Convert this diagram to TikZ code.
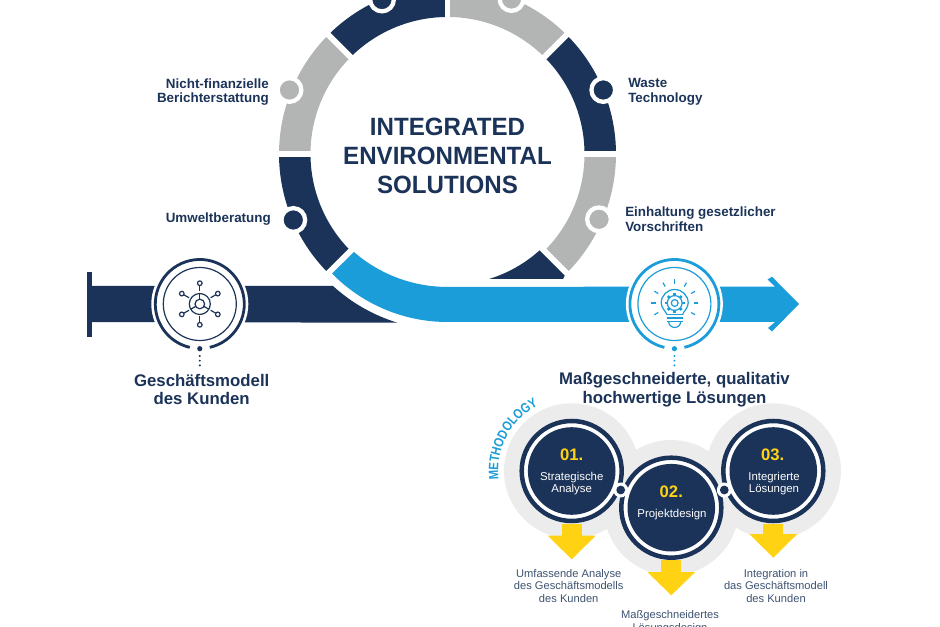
\documentclass[tikz,border=0pt]{standalone}
\usepackage{fontspec}
\setmainfont{Liberation Sans}
\newfontfamily\titlefont[BoldFeatures={FakeStretch=.965}]{Liberation Sans}
\newfontfamily\methodfont[BoldFeatures={FakeStretch=.83}]{Liberation Sans}
\usetikzlibrary{decorations.text}
\definecolor{navy}{RGB}{27,51,88}
\definecolor{sky}{RGB}{27,157,217}
\definecolor{ash}{RGB}{179,181,180}
\definecolor{mist}{RGB}{236,236,236}
\definecolor{sun}{RGB}{255,211,20}
\newcommand{\fs}[1]{\fontsize{#1}{#1}\selectfont}

\begin{document}
\begin{tikzpicture}[x=.75pt,y=.75pt,
  ringseg/.style={line width=23.6pt},
  pin/.style={circle,inner sep=0pt,minimum size=17.8pt,draw=white,line width=3.2pt},
  sidelabel/.style={navy,font=\fs{10.05}\bfseries,align=left,inner sep=0pt},
  caption/.style={navy,font=\fs{12.6}\bfseries,align=center,inner sep=0pt},
  stepname/.style={white,font=\fs{8.55},align=center,inner sep=0pt},
  stepno/.style={sun,font=\fs{12.5}\bfseries,inner sep=0pt},
  stepnote/.style={navy!85!white,font=\fs{8.35},align=center,inner sep=0pt}]
\clip (0,0) rectangle (940,626);
% ring
\foreach \a/\c in {90/navy,45/ash,0/navy,-45/ash,135/ash,180/navy}
  {\draw[ringseg,\c] (447.5,472) ++(\a:152.75) arc[start angle=\a,delta angle=45,radius=152.75];}
\fill[navy] (489,347) arc[start angle=287,end angle=313,radius=134] -- (565,351) -- (563,347) -- cycle;
\foreach \a in {0,45,90,135,180,225,315}
  {\draw[white,line width=4.4pt] (447.5,472) -- ++(\a:180);}
% pins on the ring
\node[pin,fill=ash] (pinfin) at (289.5,536) {};
\node[pin,fill=navy] (pinwaste) at (603.3,536) {};
\node[pin,fill=ash] (pinlaw) at (599,406.7) {};
\node[pin,fill=navy] (pinadvice) at (293.3,406) {};
\node[pin,fill=navy] (pintopl) at (382,626.5) {};
\node[pin,fill=ash] (pintopr) at (511.5,627) {};
% bars
\fill[navy] (87,289) rectangle (92,354);
\fill[navy] (92,340) -- (333,340) arc[start angle=227.7,end angle=253,radius=169.5] -- (92,304) -- cycle;
\fill[sky] (332,352.5) -- (354,374) arc[start angle=229,end angle=270,radius=142.4] -- (775,339.5)
  -- (767.5,346.5) -- (772,349.3) -- (799,322) -- (772,294.5) -- (768,298) -- (775,304)
  -- (447.5,304) arc[start angle=270,end angle=224.5,radius=161.8] -- cycle;
% hubs
\foreach \x/\c in {199.8/navy,674.4/sky}{
  \fill[white] (\x,322) circle[radius=48.5];
  \draw[\c,line width=2.1pt] (\x,322) ++(-77:44.5) arc[start angle=-77,end angle=257,radius=44.5];
  \draw[\c,line width=.9pt] (\x,322) circle[radius=36.5];
  \fill[\c] (\x,277.3) circle[radius=2.6];
  \foreach \y in {270,265.3,260.6} {\fill[\c] (\x,\y) circle[radius=1.1];}
}
% network icon
\begin{scope}[shift={(199.8,322)},navy,line width=.9pt]
\draw (0,0) circle[radius=10.5];
\draw (0,0) circle[radius=4.8];
\foreach \a in {90,210,330} {\draw (\a:4.8) -- (\a:10.5);}
\foreach \a in {90,30,-30,-90,-150,150}
  {\draw (\a:12.5) -- (\a:18.5); \draw (\a:20.8) circle[radius=2.3];}
\end{scope}
% bulb icon
\begin{scope}[shift={(674.7,323)},sky,line width=.9pt]
\draw (-8,-11.5) .. controls (-9,-8) and (-13.5,-5) .. (-13.5,0) arc[start angle=180,end angle=0,radius=13.5]
  .. controls (13.5,-5) and (9,-8) .. (8,-11.5);
\draw (0,0) circle[radius=3.4];
\draw (0,0) circle[radius=7.4];
\foreach \a in {0,45,...,315} {\draw[line width=2pt] (\a:7.4) -- (\a:9.8);}
\foreach \y in {-11.5,-15,-18.5} {\draw (-8,\y) -- (8,\y);}
\draw (-6,-18.5) arc[start angle=180,end angle=360,radius=6];
\foreach \a in {0,30,60,90,120,150,180,210,-30} {\draw (\a:19) -- (\a:23.5);}
\end{scope}
% title and labels
\node[navy,font=\titlefont\fs{18.75}\bfseries,align=center,inner sep=0pt] (title) at (447.5,470.5)
  {INTEGRATED\\[3pt]ENVIRONMENTAL\\[3pt]SOLUTIONS};
\node[sidelabel,anchor=east,align=right] (labfin) at (269,534) {Nicht-finanzielle\\[1.1pt]Berichterstattung};
\node[sidelabel,anchor=east,align=right] (labadvice) at (271,406.5) {Umweltberatung};
\node[sidelabel,anchor=west] (labwaste) at (628,534) {Waste\\[1.1pt]Technology};
\node[sidelabel,anchor=west] (lablaw) at (625,406.7) {Einhaltung gesetzlicher\\[.6pt]Vorschriften};
\node[caption] (capmodel) at (201.7,236.5) {Geschäftsmodell\\[1.4pt]des Kunden};
\node[caption] (capsol) at (674.5,236.5) {Maßgeschneiderte, qualitativ\\[1.4pt]hochwertige Lösungen};
% methodology
\foreach \x/\y in {571.7/155,671.3/118.3,773.3/155} {\fill[mist] (\x,\y) circle[radius=67.7];}
\foreach \x/\t/\s/\m in {571.7/102/90.3/66.7,671.3/66/54/30.7,773.3/102/92/68.3}
  {\fill[sun] (\x-10,\t) rectangle (\x+10,\s);
   \fill[sun] (\x-24,\s) -- (\x+24,\s) -- (\x,\m) -- cycle;}
\foreach \x/\y in {571.7/155,671.3/118.3,773.3/155}{
  \fill[white] (\x,\y) circle[radius=52.3];
  \draw[navy,line width=3.4pt] (\x,\y) circle[radius=50];
  \fill[navy] (\x,\y) circle[radius=43.8];
}
\foreach \x in {620.7,724.3}{
  \fill[white] (\x,136) circle[radius=7.5];
  \fill[navy] (\x,136) circle[radius=4.4];
}
\node[stepno] (noa) at (571.7,171) {01.};
\node[stepno] (nob) at (671.3,134.7) {02.};
\node[stepno] (noc) at (772.7,171) {03.};
\node[stepname] (stepa) at (571.7,142.7) {Strategische\\[.7pt]Analyse};
\node[stepname] (stepb) at (672,111.7) {Projektdesign};
\node[stepname] (stepc) at (774,142.7) {Integrierte\\[.7pt]Lösungen};
\node[stepnote] (notea) at (568.7,40) {Umfassende Analyse\\[1.2pt]des Geschäftsmodells\\[1.2pt]des Kunden};
\node[stepnote,anchor=north] (noteb) at (670,16) {Maßgeschneidertes\\[1.2pt]Lösungsdesign};
\node[stepnote] (notec) at (776,40) {Integration in\\[1.2pt]das Geschäftsmodell\\[1.2pt]des Kunden};
\path[decorate,decoration={text along path,text align=center,
  text={|\methodfont\fs{10.2}\bfseries\color{sky}|METHODOLOGY}}]
  (571.7,155) ++(194:73.5) arc[start angle=194,end angle=110,radius=73.5];
\end{tikzpicture}
\end{document}
